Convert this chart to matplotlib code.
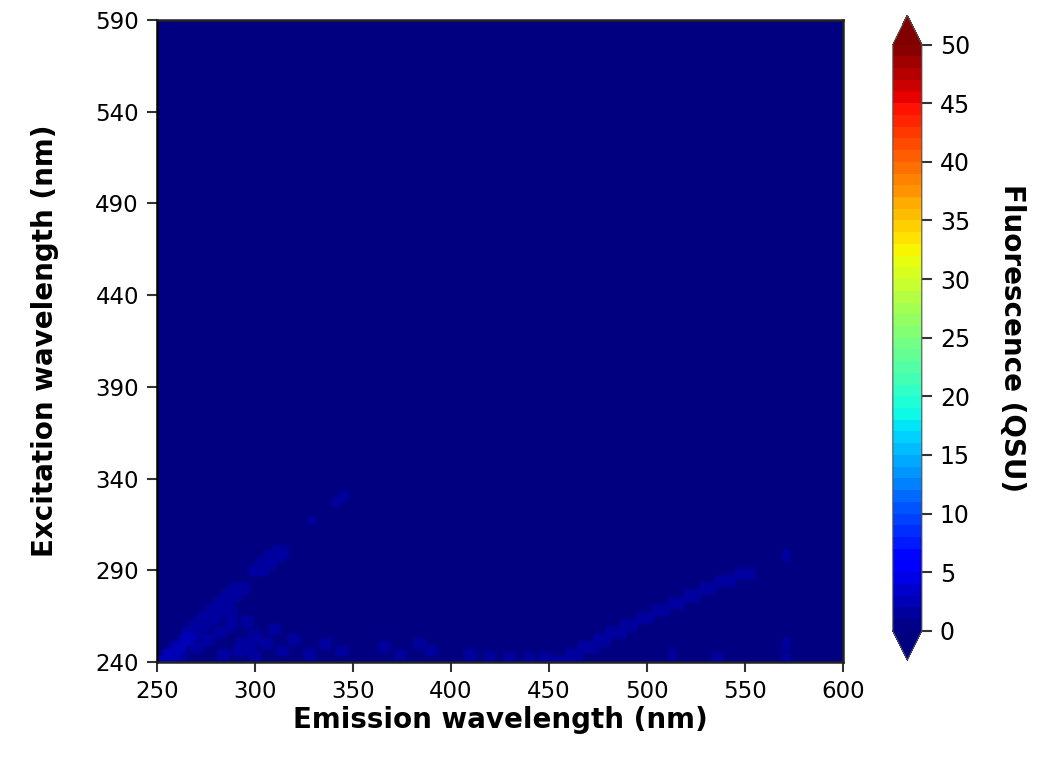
import numpy as np
import matplotlib.pyplot as plt

# wavelength grids (nm)
emission = np.arange(250, 601, 2)
excitation = np.arange(240, 591, 2)

# first-order Rayleigh scatter band: excitation, emission centre, fluorescence (QSU)
ray1_ex = [240, 244, 248, 252, 256, 260, 264, 268, 272, 276, 280, 290, 294, 298, 300]
ray1_em = [254, 257, 261, 265, 268, 272, 276, 280, 284, 288, 292, 302, 306, 310, 313]
ray1_val = [2.6, 2.4, 2.2, 2.1, 2.0, 1.9, 1.8, 1.8, 1.8, 1.7, 1.6, 1.7, 1.8, 1.8, 1.6]

# second-order Rayleigh scatter band
ray2_ex = [240, 244, 248, 252, 256, 260, 264, 268, 272, 276, 280, 284, 288]
ray2_em = [456, 463, 470, 477, 484, 491, 499, 507, 515, 523, 531, 540, 550]
ray2_val = [1.8, 1.8, 1.9, 1.9, 1.8, 1.8, 1.7, 1.7, 1.6, 1.6, 1.5, 1.5, 1.5]

# isolated weak spots: emission, excitation, fluorescence (QSU)
spot_em = [341, 345, 329, 571, 571, 571,
           262, 270, 276, 282, 288, 294, 300, 284, 292, 298, 306, 314, 320,
           280, 288, 296, 328, 336, 344, 366, 374, 384, 390, 410, 420,
           430, 440, 448, 513, 536, 300, 310]
spot_ex = [327, 330, 317, 298, 250, 242,
           244, 248, 252, 256, 260, 250, 254, 244, 246, 248, 250, 246, 252,
           264, 266, 262, 244, 250, 246, 248, 244, 250, 246, 244, 242,
           242, 242, 242, 244, 242, 242, 258]
spot_val = [1.6, 1.6, 1.3, 1.4, 1.4, 1.4,
            1.9, 1.8, 1.8, 1.6, 1.6, 1.8, 1.6, 1.8, 1.8, 1.6, 1.6, 1.4, 1.4,
            1.4, 1.4, 1.4, 1.4, 1.3, 1.4, 1.3, 1.3, 1.3, 1.3, 1.3, 1.3,
            1.4, 1.4, 1.4, 1.3, 1.3, 1.6, 1.4]


def build_matrix():
    em, ex = np.meshgrid(emission, excitation)
    z = np.zeros_like(em, dtype=float)
    for e, x, v in zip(ray1_em, ray1_ex, ray1_val):
        mask = (np.abs(em - e) <= 4) & (np.abs(ex - x) <= 2)
        z[mask] = np.maximum(z[mask], v)
    for e, x, v in zip(ray2_em, ray2_ex, ray2_val):
        mask = (np.abs(em - e) <= 4) & (np.abs(ex - x) <= 2)
        z[mask] = np.maximum(z[mask], v)
    for e, x, v in zip(spot_em, spot_ex, spot_val):
        mask = (np.abs(em - e) <= 2) & (np.abs(ex - x) <= 2)
        z[mask] = np.maximum(z[mask], v)
    return em, ex, z


def main():
    em, ex, z = build_matrix()

    fig = plt.figure(figsize=(10.43, 7.64), dpi=100)
    ax = fig.add_axes([0.1505, 0.1335, 0.6577, 0.8405])
    cax = fig.add_axes([0.856, 0.136, 0.0278, 0.844])

    levels = np.linspace(0, 50, 51)
    cs = ax.contourf(em, ex, z, levels=levels, cmap='jet', extend='both')

    ax.set_xlim(250, 600)
    ax.set_ylim(240, 590)
    ax.set_xticks(np.arange(250, 601, 50))
    ax.set_yticks(np.arange(240, 591, 50))
    ax.tick_params(labelsize=16.5, length=7, width=1.5, color='#333333', pad=6)
    for side in ['left', 'bottom', 'right', 'top']:
        ax.spines[side].set_linewidth(1.8)
        ax.spines[side].set_color('#222222')
    ax.spines['left'].set_color('black')
    ax.set_xlabel('Emission wavelength (nm)', fontsize=20, fontweight='bold', labelpad=2)
    ax.set_ylabel('Excitation wavelength (nm)', fontsize=20, fontweight='bold', labelpad=26)

    cb = fig.colorbar(cs, cax=cax, ticks=np.arange(0, 51, 5))
    cb.ax.tick_params(labelsize=17, length=7, width=1.5, color='#333333', pad=6)
    cb.outline.set_edgecolor('#555555')
    cb.set_label('Fluorescence (QSU)', fontsize=20, fontweight='bold', rotation=270, labelpad=40)

    fig.savefig('out.png', dpi=100)


if __name__ == '__main__':
    main()
